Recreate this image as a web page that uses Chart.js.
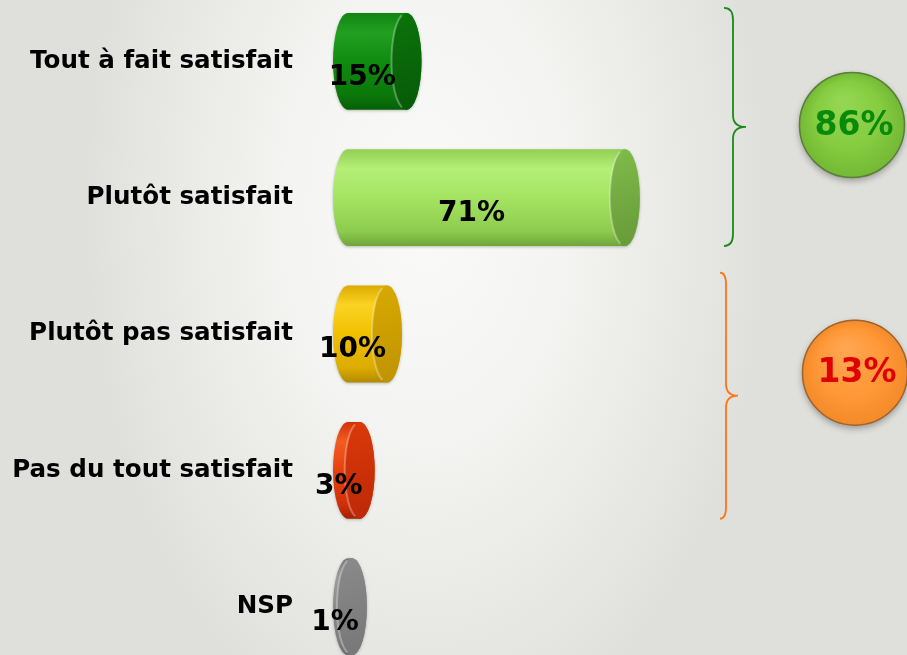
<!DOCTYPE html>
<html lang="fr">
<head>
<meta charset="utf-8">
<title>Satisfaction</title>
<script src="https://cdn.jsdelivr.net/npm/chart.js@4.4.1/dist/chart.umd.min.js"></script>
<style>
    html, body {
        margin: 0;
        padding: 0;
        width: 907px;
        height: 655px;
        overflow: hidden;
    }
    body {
        background: #dfe0db radial-gradient(ellipse 38% 85% at 47% 32%, #fafaf9 0%, #f4f4f2 40%, #e7e8e3 78%, #dfe0db 100%);
    }
    #chart {
        position: absolute;
        left: 0;
        top: -7px;
        display: block;
    }
</style>
</head>
<body>
<canvas id="chart" width="907" height="682"></canvas>
<script>
// Données
const categories = ['Tout à fait satisfait', 'Plutôt satisfait', 'Plutôt pas satisfait', 'Pas du tout satisfait', 'NSP'];
const values = [15, 71, 10, 3, 1];
const groupMembers = [[0, 1], [2, 3]];
const groupTotals = [86, 13];

// Couleurs des cylindres : bord haut, reflet, milieu, bas, ombre ; puis couvercle
const bodyColors = [
    ['#118311', '#22a022', '#0f8c0f', '#0a780a', '#065e06'],
    ['#92cf55', '#b4ef76', '#a4e462', '#8dcb4e', '#6fa53b'],
    ['#dcac00', '#fad424', '#f0c000', '#dcac00', '#b48a00'],
    ['#d43008', '#f25c22', '#e8400c', '#d0300a', '#a42000'],
    ['#777777', '#9c9c9c', '#8a8a8a', '#7e7e7e', '#676767']
];
const capColors = [
    ['#0b740b', '#075a07'],
    ['#80bb4c', '#669a38'],
    ['#d8aa00', '#bf9300'],
    ['#dc3a0a', '#bc2806'],
    ['#8a8a8a', '#777777']
];
const braceColors = ['#1a8a1a', '#ff7418'];
const circleFill = [['#94d652', '#85cc40', '#74b834'], ['#ffa650', '#ff9838', '#f48a28']];
const circleBorder = ['#5a7e3c', '#9a6434'];
const circleText = ['#0a8a0a', '#e00000'];

const RX = 15;

function cylinder(ctx, x0, x1, yc, h, i) {
    const top = yc - h / 2;
    const bot = yc + h / 2;
    const ry = h / 2;

    const g = ctx.createLinearGradient(0, top, 0, bot);
    const c = bodyColors[i];
    g.addColorStop(0, c[0]);
    g.addColorStop(0.2, c[1]);
    g.addColorStop(0.5, c[2]);
    g.addColorStop(0.85, c[3]);
    g.addColorStop(1, c[4]);

    ctx.save();
    ctx.shadowColor = 'rgba(0,0,0,0.25)';
    ctx.shadowBlur = 3;
    ctx.shadowOffsetY = 1;
    ctx.beginPath();
    ctx.ellipse(x0, yc, RX, ry, 0, -Math.PI / 2, Math.PI / 2, true);
    ctx.lineTo(x1, bot);
    ctx.ellipse(x1, yc, RX, ry, 0, Math.PI / 2, -Math.PI / 2, true);
    ctx.closePath();
    ctx.fillStyle = g;
    ctx.fill();
    ctx.restore();

    // couvercle
    const cg = ctx.createLinearGradient(x1 - RX, top, x1 + RX, bot);
    cg.addColorStop(0, capColors[i][0]);
    cg.addColorStop(1, capColors[i][1]);
    ctx.beginPath();
    ctx.ellipse(x1, yc, RX, ry, 0, 0, Math.PI * 2);
    ctx.fillStyle = cg;
    ctx.fill();

    // liseré clair sur le bord gauche du couvercle
    ctx.beginPath();
    ctx.ellipse(x1, yc, RX, ry, 0, Math.PI * 0.6, Math.PI * 1.4);
    ctx.strokeStyle = 'rgba(255,255,255,0.3)';
    ctx.lineWidth = 2;
    ctx.stroke();
}

const cylinderPlugin = {
    id: 'cylinders',
    afterDatasetsDraw(chart) {
        const ctx = chart.ctx;
        const meta = chart.getDatasetMeta(0);
        meta.data.forEach((bar, i) => {
            const p = bar.getProps(['x', 'y', 'base', 'height'], true);
            cylinder(ctx, p.base, p.x, p.y, p.height, i);
        });

        // étiquettes de valeurs
        ctx.save();
        ctx.font = 'bold 28px "DejaVu Sans"';
        ctx.fillStyle = '#000';
        ctx.textAlign = 'center';
        ctx.textBaseline = 'middle';
        meta.data.forEach((bar, i) => {
            const p = bar.getProps(['x', 'y', 'base'], true);
            ctx.fillText(values[i] + '%', (p.base + p.x) / 2 - 15, p.y + 16);
        });
        ctx.restore();
    }
};

// accolades et pastilles de regroupement
const braceX = [[724, 733, 746], [720, 726, 738]];
const braceTopGap = [5, 13];
const circleX = [852, 855];
const circleDy = [-2, -23];

const groupPlugin = {
    id: 'groups',
    afterDraw(chart) {
        const ctx = chart.ctx;
        const meta = chart.getDatasetMeta(0);
        groupMembers.forEach((members, gi) => {
            const first = meta.data[members[0]].getProps(['y', 'height'], true);
            const last = meta.data[members[members.length - 1]].getProps(['y', 'height'], true);
            const yTop = first.y - first.height / 2 - braceTopGap[gi];
            const yBot = last.y + last.height / 2;
            const yMid = (yTop + yBot) / 2;
            const [xL, xM, xT] = braceX[gi];
            const r = 12;

            ctx.save();
            ctx.beginPath();
            ctx.moveTo(xL, yTop);
            ctx.quadraticCurveTo(xM, yTop, xM, yTop + r);
            ctx.lineTo(xM, yMid - r);
            ctx.quadraticCurveTo(xM, yMid, xT, yMid);
            ctx.quadraticCurveTo(xM, yMid, xM, yMid + r);
            ctx.lineTo(xM, yBot - r);
            ctx.quadraticCurveTo(xM, yBot, xL, yBot);
            ctx.strokeStyle = braceColors[gi];
            ctx.lineWidth = 1.8;
            ctx.stroke();
            ctx.restore();

            const cx = circleX[gi];
            const cy = yMid + circleDy[gi];
            const rad = 53;
            const rg = ctx.createRadialGradient(cx - 10, cy - 25, 4, cx, cy, rad);
            rg.addColorStop(0, circleFill[gi][0]);
            rg.addColorStop(0.6, circleFill[gi][1]);
            rg.addColorStop(1, circleFill[gi][2]);

            ctx.save();
            ctx.shadowColor = 'rgba(0,0,0,0.3)';
            ctx.shadowBlur = 6;
            ctx.shadowOffsetY = 3;
            ctx.beginPath();
            ctx.arc(cx, cy, rad, 0, Math.PI * 2);
            ctx.fillStyle = rg;
            ctx.fill();
            ctx.restore();

            ctx.beginPath();
            ctx.arc(cx, cy, rad - 0.5, 0, Math.PI * 2);
            ctx.strokeStyle = circleBorder[gi];
            ctx.lineWidth = 1.5;
            ctx.stroke();

            ctx.save();
            ctx.font = 'bold 33px "DejaVu Sans"';
            ctx.fillStyle = circleText[gi];
            ctx.textAlign = 'center';
            ctx.textBaseline = 'middle';
            ctx.fillText(groupTotals[gi] + '%', cx + 2, cy + 1);
            ctx.restore();
        });
    }
};

const chart = new Chart(document.getElementById('chart'), {
    type: 'bar',
    data: {
        labels: categories,
        datasets: [{
            data: values,
            backgroundColor: 'rgba(0,0,0,0)',
            borderWidth: 0,
            barPercentage: 0.71,
            categoryPercentage: 1
        }]
    },
    options: {
        indexAxis: 'y',
        responsive: false,
        animation: false,
        layout: {
            padding: { left: 0, right: 169, top: 0, bottom: 0 }
        },
        plugins: {
            legend: { display: false },
            tooltip: { enabled: false }
        },
        scales: {
            x: {
                display: false,
                min: 0,
                max: 100
            },
            y: {
                // tickLength sert d'écart entre libellés et barres (grille masquée)
                grid: { display: false, drawTicks: true, tickLength: 55 },
                border: { display: false },
                ticks: {
                    color: '#000',
                    padding: 0,
                    font: { family: 'DejaVu Sans', weight: 'bold', size: 24.6, lineHeight: 0.01 }
                },
                afterFit(axis) {
                    axis.width = 348;
                }
            }
        }
    },
    plugins: [cylinderPlugin, groupPlugin]
});
</script>
</body>
</html>
